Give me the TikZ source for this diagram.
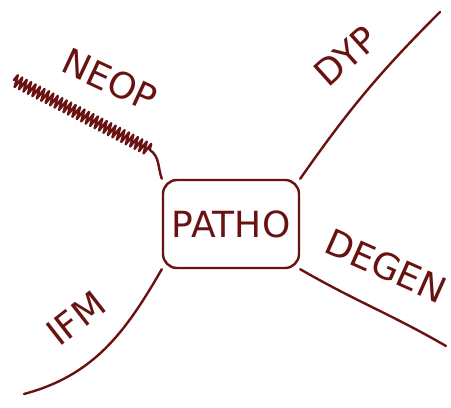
\documentclass[tikz,border=0pt]{standalone}
\usepackage{fontspec}
\setmainfont{DejaVu Sans}
\usetikzlibrary{decorations.pathmorphing}
\definecolor{ink}{RGB}{105,18,18}
\tikzset{
  pen/.style={draw=ink, line width=2.4pt, line cap=round, line join=round},
  lbl/.style={text=ink, inner sep=0pt, font=\fontsize{36}{36}\selectfont}
}
\begin{document}
\begin{tikzpicture}[x=1pt,y=-1pt]
\useasboundingbox (0,0) rectangle (451,408);
% central box
\node[pen, rounded corners=14pt, minimum width=136pt, minimum height=88pt,
      lbl] (patho) at (231,224) {PATHO};
% free ends of the four branches
\coordinate (neopend) at (14,80);
\coordinate (neopbend) at (150,150);
\coordinate (dypend) at (440,12);
\coordinate (degenend) at (446,346);
\coordinate (ifmend) at (24,394);
% branches
\draw[pen, decorate, decoration={zigzag, segment length=5pt, amplitude=6pt}]
  (neopend) -- (neopbend);
\draw[pen] (neopbend) to[out=-35,in=110] (patho.north west);
\draw[pen] (patho.north east) to[out=55,in=-135] (dypend);
\draw[pen] (patho.south east) to[out=-30,in=150] (degenend);
\draw[pen] (patho.south west) to[out=-120,in=15] (ifmend);
% labels
\node[lbl, rotate=-25] (neop) at (110,80) {NEOP};
\node[lbl, rotate=42] (dyp) at (346,56) {DYP};
\node[lbl, rotate=-24] (degen) at (386,266) {DEGEN};
\node[lbl, rotate=38] (ifm) at (76,318) {IFM};
\end{tikzpicture}
\end{document}
